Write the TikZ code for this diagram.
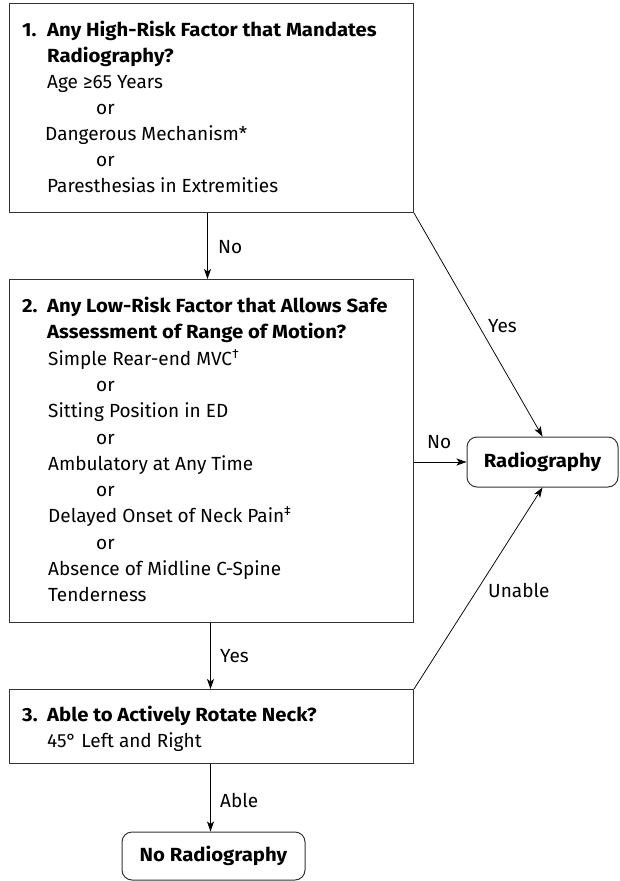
\documentclass[tikz,border=0pt]{standalone}
\usepackage{fontspec}
\setmainfont{Fira Sans}[BoldFeatures={FakeStretch=1.07}]
\usetikzlibrary{arrows.meta}
\begin{document}
\begin{tikzpicture}[x=1pt,y=-1pt,
  box/.style={draw=black!80, line width=1pt, inner sep=0pt, anchor=north west},
  term/.style={draw=black!80, line width=1pt, rounded corners=10pt, inner sep=0pt, font=\bfseries},
  txt/.style={anchor=base west, inner sep=0pt},
  hd/.style={txt, font=\bfseries},
  lab/.style={anchor=base west, inner sep=0pt},
  arr/.style={-{Stealth[length=10pt,width=7pt,inset=2.5pt]}, line width=0.75pt}
]
\fontsize{19}{22}\selectfont
\useasboundingbox (0,0) rectangle (620,881);
% boxes
\node[box, minimum width=404pt, minimum height=209pt] (b1) at (9,3) {};
\node[box, minimum width=404pt, minimum height=343pt] (b2) at (9,279) {};
\node[box, minimum width=404pt, minimum height=74pt] (b3) at (9,689) {};
\node[term, minimum width=151pt, minimum height=50pt] (rad) at (542.5,462) {Radiography};
\node[term, minimum width=183pt, minimum height=48pt] (norad) at (213.5,856) {No Radiography};
% box 1 text
\node[hd] (n1) at (22,36) {1.};
\node[hd] (h1a) at (47,36) {Any High-Risk Factor that Mandates};
\node[hd] (h1b) at (47,62) {Radiography?};
\node[txt] (t1a) at (47,88) {Age ≥65 Years};
\node[txt] (t1b) at (96,114) {or};
\node[txt] (t1c) at (45,140) {Dangerous Mechanism*};
\node[txt] (t1d) at (96,166) {or};
\node[txt] (t1e) at (47,192) {Paresthesias in Extremities};
% box 2 text
\node[hd] (n2) at (22,312) {2.};
\node[hd] (h2a) at (47,312) {Any Low-Risk Factor that Allows Safe};
\node[hd] (h2b) at (47,338) {Assessment of Range of Motion?};
\node[txt] (t2a) at (48,365) {Simple Rear-end MVC\textsuperscript{†}};
\node[txt] (t2b) at (96,391) {or};
\node[txt] (t2c) at (48,417) {Sitting Position in ED};
\node[txt] (t2d) at (96,444) {or};
\node[txt] (t2e) at (48,470) {Ambulatory at Any Time};
\node[txt] (t2f) at (96,496) {or};
\node[txt] (t2g) at (48,522) {Delayed Onset of Neck Pain\textsuperscript{‡}};
\node[txt] (t2h) at (96,549) {or};
\node[txt] (t2i) at (48,575) {Absence of Midline C-Spine};
\node[txt] (t2j) at (48,601) {Tenderness};
% box 3 text
\node[hd] (n3) at (22,721) {3.};
\node[hd] (h3a) at (47,721) {Able to Actively Rotate Neck?};
\node[txt] (t3a) at (47,747) {45° Left and Right};
% connectors
\draw[arr] ([xshift=-4pt]b1.south) -- ([xshift=-4pt]b2.north);
\draw[arr] ([xshift=-1pt]b2.south) -- ([xshift=-1pt]b3.north);
\draw[arr] ([xshift=-1pt]b3.south) -- ([xshift=-1pt]b3.south |- norad.north);
\draw[arr] (b1.south east) -- (rad.north);
\draw[arr] (b2.east |- rad.west) -- (rad.west);
\draw[arr] (b3.north east) -- (rad.south);
% labels
\node[lab] (l1) at (218,253) {No};
\node[lab] (l2) at (220,662) {Yes};
\node[lab] (l3) at (220,807) {Able};
\node[lab] (l4) at (488,332) {Yes};
\node[lab] (l5) at (427,448) {No};
\node[lab] (l6) at (488,597) {Unable};
\end{tikzpicture}
\end{document}
